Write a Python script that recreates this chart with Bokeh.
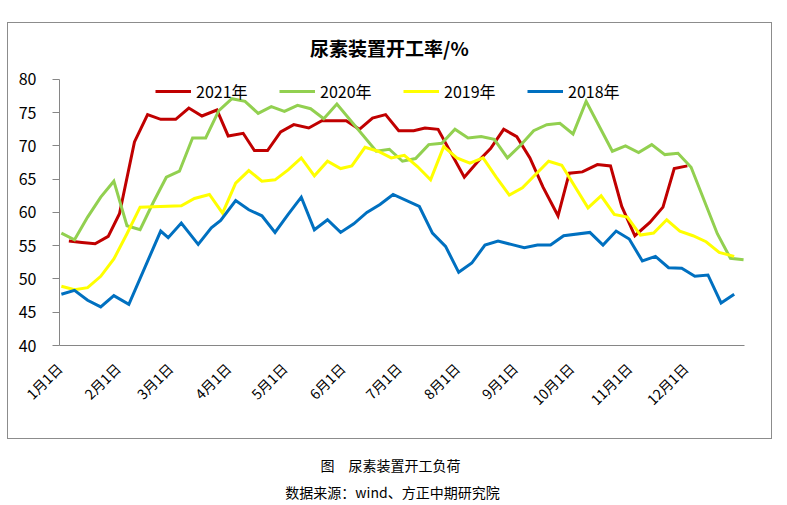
import math
from bokeh.plotting import figure
from bokeh.models import Range1d, FixedTicker, Legend, LegendItem, Label, Spacer
from bokeh.layouts import column, row
from bokeh.embed import file_html
from bokeh.resources import INLINE

# ---------------- data ----------------
title_text = "尿素装置开工率/%"
caption_text = "图　尿素装置开工负荷"
source_text = "数据来源：wind、方正中期研究院"

month_days = [0, 31, 59, 90, 120, 151, 181, 212, 243, 273, 304, 334]
month_labels = ["1月1日", "2月1日", "3月1日", "4月1日", "5月1日", "6月1日",
                "7月1日", "8月1日", "9月1日", "10月1日", "11月1日", "12月1日"]
y_ticks = [40, 45, 50, 55, 60, 65, 70, 75, 80]

series_names = ["2021年", "2020年", "2019年", "2018年"]
series_colors = ["#C00000", "#92D050", "#FFFF00", "#0070C0"]

days_2021 = [5, 12, 19, 26, 32, 40, 47, 54, 62, 69, 76, 84, 90, 98, 104, 111, 118, 125,
             133, 140, 146, 153, 160, 167, 174, 181, 189, 195, 202, 216, 223, 230, 237,
             244, 251, 258, 266, 272, 279, 287, 294, 300, 307, 315, 322, 328, 335]
vals_2021 = [55.7, 55.5, 55.3, 56.4, 59.8, 70.6, 74.7, 74.0, 74.0, 75.7, 74.5, 75.4, 71.5,
             71.9, 69.3, 69.3, 72.1, 73.2, 72.7, 73.8, 73.8, 73.8, 72.5, 74.2, 74.7, 72.3,
             72.3, 72.7, 72.5, 65.3, 67.6, 69.6, 72.5, 71.4, 68.2, 63.8, 59.5, 65.9, 66.1,
             67.2, 67.0, 60.9, 56.5, 58.5, 60.8, 66.6, 67.0]

days_2020 = [1, 8, 15, 22, 29, 36, 43, 50, 57, 64, 71, 78, 85, 92, 99, 106, 113, 120, 127,
             134, 141, 148, 169, 176, 183, 190, 197, 204, 211, 218, 225, 232, 239, 246, 253,
             260, 267, 274, 281, 295, 302, 309, 316, 323, 330, 337, 344, 351, 358, 365]
vals_2020 = [56.9, 55.9, 59.3, 62.3, 64.7, 58.0, 57.4, 61.5, 65.3, 66.2, 71.2, 71.2, 75.3,
             77.1, 76.7, 74.9, 75.9, 75.2, 76.1, 75.6, 74.1, 76.3, 69.2, 69.5, 67.7, 68.1,
             70.2, 70.4, 72.5, 71.2, 71.4, 71.0, 68.2, 70.1, 72.3, 73.2, 73.4, 71.8, 76.7,
             69.2, 70.0, 69.0, 70.2, 68.7, 68.9, 66.8, 61.8, 56.8, 53.1, 52.9]

days_2019 = [1, 8, 15, 22, 29, 36, 43, 65, 72, 80, 87, 94, 101, 108, 115, 122, 129, 136,
             143, 150, 156, 163, 170, 177, 184, 191, 198, 205, 212, 219, 226, 233, 240, 247,
             254, 261, 268, 282, 289, 296, 303, 310, 317, 324, 331, 338, 345, 352, 360]
vals_2019 = [48.9, 48.4, 48.7, 50.4, 53.0, 56.8, 60.8, 61.0, 62.1, 62.7, 59.9, 64.4, 66.3,
             64.7, 64.9, 66.4, 68.2, 65.5, 67.7, 66.6, 67.0, 69.8, 69.2, 68.2, 68.6, 66.9,
             64.9, 69.9, 68.2, 67.4, 68.2, 65.3, 62.6, 63.7, 65.7, 67.7, 67.1, 60.7, 62.5,
             59.7, 59.3, 56.6, 56.9, 58.9, 57.2, 56.5, 55.6, 54.0, 53.4]

days_2018 = [1, 8, 15, 22, 29, 37, 54, 58, 65, 74, 81, 86, 94, 101, 108, 115, 122, 129,
             136, 143, 150, 157, 164, 171, 178, 192, 199, 206, 213, 220, 227, 234, 241, 248,
             255, 262, 269, 283, 290, 297, 304, 311, 318, 325, 332, 339, 346, 353, 360]
vals_2018 = [47.7, 48.3, 46.8, 45.8, 47.5, 46.2, 57.2, 56.2, 58.4, 55.2, 57.7, 58.8, 61.8,
             60.4, 59.5, 57.0, 59.7, 62.3, 57.4, 58.9, 57.0, 58.3, 60.0, 61.2, 62.7, 60.9,
             56.9, 54.9, 51.0, 52.4, 55.1, 55.7, 55.2, 54.7, 55.1, 55.1, 56.5, 57.0, 55.1,
             57.2, 56.0, 52.7, 53.4, 51.7, 51.6, 50.4, 50.6, 46.4, 47.7]

all_days = [days_2021, days_2020, days_2019, days_2018]
all_vals = [vals_2021, vals_2020, vals_2019, vals_2018]

FONT = "Noto Sans CJK SC"
GRAY = "#868686"

# ---------------- main chart ----------------
# the y range reaches above 80 so the chart title can sit inside the frame;
# the y axis itself is bounded to 40..80
p = figure(width=765, height=417, output_backend="svg", toolbar_location=None,
           x_range=Range1d(0, 365.5), y_range=Range1d(40, 86),
           min_border_left=51, min_border_right=29, min_border_top=16, min_border_bottom=95,
           background_fill_color="white", border_fill_color="white")
p.styles = {"border": "1px solid #8c8c8c"}
p.outline_line_color = None
p.xgrid.visible = False
p.ygrid.visible = False

renderers = []
for d, v, c in zip(all_days, all_vals, series_colors):
    r = p.line(d, v, line_color=c, line_width=3, line_join="miter")
    renderers.append(r)

xa = p.xaxis[0]
xa.ticker = FixedTicker(ticks=month_days)
xa.major_label_overrides = {d: l for d, l in zip(month_days, month_labels)}
xa.major_label_orientation = math.pi / 4
xa.major_tick_out = 0
xa.major_tick_in = 0
xa.minor_tick_out = 0
xa.minor_tick_in = 0
xa.axis_line_color = GRAY
xa.major_label_text_font = FONT
xa.major_label_text_font_size = "14px"
xa.major_label_text_color = "black"
xa.major_label_standoff = 20

ya = p.yaxis[0]
ya.bounds = (40, 80)
ya.ticker = FixedTicker(ticks=y_ticks)
ya.major_tick_out = 7
ya.major_tick_in = 0
ya.minor_tick_out = 0
ya.minor_tick_in = 0
ya.axis_line_color = GRAY
ya.major_tick_line_color = GRAY
ya.major_label_text_font = FONT
ya.major_label_text_font_size = "16px"
ya.major_label_text_color = "black"
ya.major_label_standoff = 16

legend = Legend(items=[LegendItem(label=n, renderers=[r]) for n, r in zip(series_names, renderers)],
                orientation="horizontal", location=(96, 242),
                glyph_width=36, glyph_height=24, label_height=24, label_width=56,
                label_standoff=5, spacing=27,
                padding=0, margin=0, label_text_font=FONT, label_text_font_size="16px",
                label_text_color="black", border_line_alpha=0, background_fill_alpha=0)
p.add_layout(legend, "center")

p.add_layout(Label(x=176, y=84.8, text=title_text, text_align="center",
                   text_baseline="middle", text_font=FONT, text_font_size="19px",
                   text_font_style="bold", text_color="black"))

# ---------------- caption ----------------
cap = figure(width=765, height=64, output_backend="svg", toolbar_location=None,
             x_range=Range1d(0, 765), y_range=Range1d(0, 64),
             x_axis_type=None, y_axis_type=None, min_border=0,
             background_fill_color="white", border_fill_color="white")
cap.outline_line_color = None
cap.xgrid.visible = False
cap.ygrid.visible = False
cap.add_layout(Label(x=383, y=39, text=caption_text, text_align="center",
                     text_baseline="middle", text_font=FONT,
                     text_font_size="14px", text_color="black"))
cap.add_layout(Label(x=385, y=12, text=source_text, text_align="center",
                     text_baseline="middle", text_font=FONT,
                     text_font_size="14px", text_color="black"))

layout = column(Spacer(width=770, height=22),
                row(Spacer(width=7, height=417), p),
                row(Spacer(width=7, height=64), cap))

with open("out.html", "w") as f:
    f.write(file_html(layout, INLINE))
